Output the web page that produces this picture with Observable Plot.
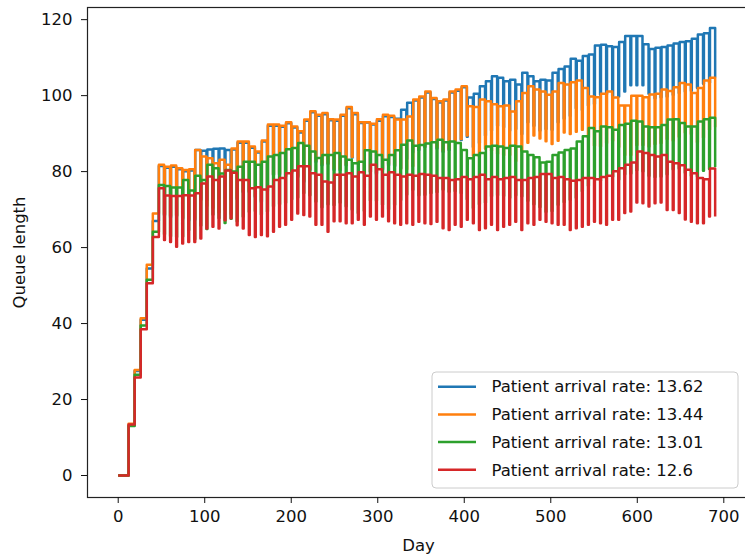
<!DOCTYPE html>
<html>
<head>
<meta charset="utf-8">
<script src="https://cdn.jsdelivr.net/npm/d3@7"></script>
<script src="https://cdn.jsdelivr.net/npm/@observablehq/plot@0.6"></script>
<style>
  body { margin: 0; background: #fff; }
</style>
</head>
<body>
<div id="vis"></div>
<script>
// series names and matplotlib tab10 colours
const seriesNames = [
  'Patient arrival rate: 13.62',
  'Patient arrival rate: 13.44',
  'Patient arrival rate: 13.01',
  'Patient arrival rate: 12.6'
]
const seriesColors = ['#1f77b4', '#ff7f0e', '#2ca02c', '#d62728']

const xTicks = [0, 100, 200, 300, 400, 500, 600, 700]
const yTicks = [0, 20, 40, 60, 80, 100, 120]

// start-up: queue steps up once a week
const rampDays = [0, 12, 19, 26, 33, 40]
const rampBlue = [0, 13.2, 27.5, 41.0, 54.5, 67.0]
const rampOrange = [0, 13.6, 27.8, 41.4, 55.5, 69.0]
const rampGreen = [0, 13.0, 26.5, 39.5, 51.5, 64.2]
const rampRed = [0, 13.4, 25.8, 38.5, 50.6, 62.8]

// after day 47: weekly level, then a one-day drop at the end of the week
const firstWeekDay = 47

const highBlue = [
  81.5, 81.0, 81.3, 80.6, 80.1, 80.3, 85.7, 85.5, 85.8, 86.0,
  86.1, 85.7, 85.8, 87.6, 87.6, 86.3, 85.0, 87.9, 92.1, 92.1,
  91.8, 92.7, 91.6, 90.3, 93.4, 95.6, 94.7, 95.1, 93.5, 93.4,
  94.7, 96.7, 95.1, 92.8, 92.9, 92.4, 93.4, 94.6, 94.4, 93.9,
  96.3, 98.1, 98.7, 99.5, 100.8, 99.1, 98.2, 98.7, 100.8, 101.3,
  102.2, 99.5, 100.5, 102.5, 103.8, 105.1, 104.7, 103.8, 104.2, 102.9,
  106.0, 105.1, 103.8, 104.2, 104.0, 106.0, 107.0, 107.7, 109.7, 109.2,
  110.4, 110.8, 113.2, 113.4, 113.0, 112.8, 114.1, 115.7, 115.7, 115.7,
  113.5, 112.3, 112.6, 112.8, 113.2, 113.7, 114.1, 114.3, 115.0, 116.1,
  116.4, 117.8
]
const lowBlue = [
  68.5, 68.0, 68.3, 67.6, 67.1, 67.3, 72.7, 72.5, 72.8, 73.0,
  73.1, 72.7, 72.8, 74.6, 74.6, 73.3, 72.0, 74.9, 79.1, 79.1,
  78.8, 79.7, 78.6, 77.3, 80.4, 82.6, 81.7, 82.1, 80.5, 80.4,
  81.7, 83.7, 82.1, 79.8, 79.9, 79.4, 80.4, 81.6, 81.4, 80.9,
  83.3, 85.1, 85.7, 86.5, 87.8, 86.1, 85.2, 85.7, 87.8, 88.3,
  89.2, 86.5, 87.5, 89.5, 90.8, 92.1, 91.7, 90.8, 91.2, 89.9,
  93.0, 92.1, 90.8, 91.2, 91.0, 93.0, 94.0, 94.7, 96.7, 96.2,
  97.4, 97.8, 100.2, 100.4, 100.0, 99.8, 101.1, 102.7, 102.7, 102.7,
  100.5, 99.3, 99.6, 99.8, 100.2, 100.7, 101.1, 101.3, 102.0, 103.1,
  103.4, 104.8
]

const highOrange = [
  81.8, 81.3, 81.6, 80.9, 80.4, 80.6, 85.7, 84.0, 83.5, 82.2,
  83.1, 81.8, 86.1, 87.9, 87.9, 86.6, 85.3, 88.2, 92.4, 92.4,
  92.1, 93.0, 91.9, 90.6, 93.7, 95.9, 95.0, 95.4, 93.8, 93.7,
  95.0, 97.0, 95.4, 93.0, 93.0, 92.6, 93.8, 95.0, 94.7, 93.7,
  93.7, 94.5, 99.0, 99.8, 101.1, 99.4, 98.5, 99.0, 101.1, 101.6,
  102.5, 97.2, 97.0, 99.0, 98.5, 97.7, 97.2, 97.4, 95.8, 98.5,
  100.7, 102.5, 101.6, 101.1, 100.2, 101.1, 103.3, 102.9, 103.5, 104.0,
  102.0, 99.8, 99.6, 100.5, 101.1, 99.5, 97.4, 97.4, 100.0, 100.0,
  99.6, 100.3, 100.5, 101.6, 101.2, 102.2, 103.3, 102.9, 100.7, 102.0,
  104.0, 104.7
]
const lowOrange = [
  68.8, 68.4, 68.5, 67.9, 67.5, 67.7, 72.6, 71.0, 70.5, 69.3,
  70.0, 68.9, 73.1, 74.8, 74.9, 73.6, 72.4, 75.2, 79.3, 79.5,
  79.1, 80.0, 78.9, 77.7, 80.6, 82.9, 82.0, 82.3, 80.8, 80.7,
  81.9, 83.9, 82.4, 80.1, 80.0, 79.7, 80.8, 82.0, 81.7, 80.7,
  80.6, 81.5, 86.0, 86.7, 88.0, 86.5, 85.5, 86.0, 88.1, 88.6,
  89.5, 84.2, 84.0, 86.0, 85.5, 84.7, 84.3, 84.4, 82.8, 85.5,
  87.6, 89.5, 88.7, 88.0, 87.3, 88.1, 90.3, 89.9, 90.5, 91.0,
  89.0, 86.8, 86.6, 87.5, 88.1, 86.5, 84.4, 84.4, 87.0, 87.0,
  86.6, 87.3, 87.5, 88.6, 88.2, 89.2, 90.3, 89.9, 87.7, 89.0,
  91.0, 91.7
]

const highGreen = [
  76.5, 76.2, 75.8, 75.8, 77.8, 75.0, 78.9, 77.8, 81.8, 80.9,
  79.5, 80.4, 80.0, 81.3, 82.6, 82.6, 81.8, 82.6, 84.0, 84.4,
  84.9, 85.9, 86.2, 87.5, 86.8, 85.3, 83.6, 84.4, 84.4, 84.9,
  84.0, 83.1, 82.2, 82.6, 85.6, 85.3, 84.4, 83.1, 84.4, 85.6,
  87.1, 88.2, 86.8, 87.0, 87.4, 87.7, 88.4, 87.7, 87.9, 87.5,
  85.7, 83.5, 84.4, 84.9, 86.6, 86.8, 86.6, 86.2, 86.8, 86.6,
  85.3, 84.4, 83.8, 82.4, 82.6, 84.4, 85.0, 85.7, 86.1, 87.9,
  89.3, 91.5, 90.6, 91.9, 91.7, 91.0, 92.3, 92.6, 93.4, 93.2,
  91.9, 91.7, 91.7, 92.3, 93.7, 93.8, 92.8, 91.9, 91.9, 93.2,
  93.8, 94.2
]
const lowGreen = [
  63.5, 63.0, 62.8, 62.9, 64.6, 62.2, 65.8, 64.9, 68.7, 67.8,
  66.5, 67.6, 66.9, 68.2, 69.4, 69.6, 68.7, 69.5, 70.9, 71.4,
  71.8, 72.7, 73.2, 74.4, 73.8, 72.1, 70.6, 71.4, 71.2, 71.9,
  70.9, 70.0, 69.1, 69.7, 72.4, 72.3, 71.3, 70.1, 71.3, 72.5,
  74.0, 75.2, 73.8, 73.9, 74.4, 74.6, 75.3, 74.7, 74.9, 74.4,
  72.7, 70.4, 71.4, 71.8, 73.5, 73.8, 73.6, 73.1, 73.8, 73.5,
  72.3, 71.4, 70.7, 69.4, 69.6, 71.3, 72.0, 72.6, 73.1, 74.8,
  76.3, 78.4, 77.6, 78.8, 78.7, 77.9, 79.3, 79.5, 80.4, 80.1,
  78.9, 78.6, 78.7, 79.3, 80.6, 80.8, 79.7, 78.9, 78.8, 80.2,
  80.7, 81.2
]

const highRed = [
  75.6, 73.7, 73.6, 73.6, 73.8, 73.7, 74.3, 76.9, 78.7, 77.8,
  78.7, 80.3, 79.7, 77.8, 77.8, 75.6, 75.9, 75.3, 76.1, 77.8,
  78.3, 79.6, 80.3, 81.4, 81.4, 79.6, 79.2, 77.4, 77.1, 79.2,
  79.2, 79.6, 78.7, 79.8, 78.9, 81.8, 80.6, 79.2, 79.8, 79.2,
  78.7, 79.2, 78.9, 79.4, 79.2, 78.9, 78.3, 78.3, 77.8, 78.0,
  78.6, 78.0, 78.6, 79.2, 78.0, 78.6, 78.0, 78.3, 78.6, 77.8,
  77.8, 78.3, 78.6, 79.4, 79.4, 78.3, 78.6, 78.0, 77.6, 77.8,
  78.3, 78.3, 78.0, 78.6, 78.9, 80.1, 80.9, 81.8, 82.4, 85.3,
  84.9, 84.4, 84.0, 84.4, 82.6, 82.2, 81.7, 80.5, 79.6, 78.3,
  78.0, 80.8
]
const lowRed = [
  62.0, 61.5, 60.2, 61.1, 61.5, 61.5, 62.4, 65.0, 65.5, 65.0,
  67.2, 67.7, 65.9, 65.0, 63.3, 62.8, 63.3, 63.0, 64.2, 65.5,
  66.0, 67.3, 69.0, 68.6, 68.2, 66.0, 66.0, 64.2, 66.9, 66.9,
  66.4, 66.4, 67.3, 66.0, 68.2, 67.3, 68.2, 66.9, 66.4, 66.0,
  66.4, 66.0, 66.8, 66.4, 66.2, 66.8, 65.1, 64.6, 66.0, 65.5,
  67.3, 66.4, 64.6, 65.1, 66.0, 64.6, 65.5, 66.0, 66.8, 64.6,
  66.4, 66.0, 67.3, 66.8, 66.4, 66.0, 66.0, 64.6, 65.1, 65.5,
  66.0, 66.8, 66.4, 66.0, 67.3, 67.3, 69.1, 69.5, 71.9, 71.7,
  70.8, 71.7, 71.9, 69.9, 69.9, 69.1, 67.4, 66.8, 66.4, 66.4,
  68.2, 68.2
]

const ramps = [rampBlue, rampOrange, rampGreen, rampRed]
const highs = [highBlue, highOrange, highGreen, highRed]
const lows = [lowBlue, lowOrange, lowGreen, lowRed]

// one table per series, in drawing order (blue first, red on top)
const tables = seriesNames.map((name, i) => {
  const rows = rampDays.map((d, k) => ({day: d, queue: ramps[i][k], series: name}))
  highs[i].forEach((h, j) => {
    const start = firstWeekDay + 7 * j
    rows.push({day: start, queue: h, series: name})
    rows.push({day: start + 6, queue: lows[i][j], series: name})
  })
  return rows
})

const font = "'DejaVu Sans', sans-serif"

const chart = Plot.plot({
  width: 745,
  height: 558,
  marginLeft: 87,
  marginRight: -4,
  marginTop: 7,
  marginBottom: 61,
  x: {domain: [-35.5, 729.7]},
  y: {domain: [-5.79, 123.2]},
  color: {domain: seriesNames, range: seriesColors},
  marks: [
    ...tables.map(rows => Plot.lineY(rows, {
      x: 'day',
      y: 'queue',
      stroke: 'series',
      curve: 'step-after',
      strokeWidth: 2.5,
      strokeLinejoin: 'round',
      strokeLinecap: 'butt'
    })),
    Plot.frame({stroke: '#222', strokeWidth: 1.2}),
    Plot.axisX({
      ticks: xTicks,
      tickSize: 6,
      tickPadding: 7,
      label: 'Day',
      labelAnchor: 'center',
      labelArrow: false,
      labelOffset: 53
    }),
    Plot.axisY({
      ticks: yTicks,
      tickSize: 6,
      tickPadding: 9,
      label: 'Queue length',
      labelAnchor: 'center',
      labelArrow: false,
      labelOffset: 74
    })
  ],
  style: {
    fontSize: '16.5px',
    fontFamily: font,
    color: '#111',
    background: '#fff',
    overflow: 'visible'
  }
})

// matplotlib style legend box in the lower right
const svg = d3.select(chart)
const legend = svg.append('g')
  .attr('font-family', font)
  .attr('font-size', '16.5px')
  .attr('text-anchor', 'start')
legend.append('rect')
  .attr('x', 432).attr('y', 372)
  .attr('width', 306).attr('height', 116)
  .attr('rx', 4)
  .attr('fill', '#fff').attr('fill-opacity', 0.8)
  .attr('stroke', '#cccccc')
seriesNames.forEach((name, i) => {
  const y = 386.7 + 27.7 * i
  legend.append('line')
    .attr('x1', 438).attr('x2', 476)
    .attr('y1', y).attr('y2', y)
    .attr('stroke', seriesColors[i]).attr('stroke-width', 2.5)
  legend.append('text')
    .attr('x', 491.5).attr('y', y).attr('dy', '0.35em')
    .attr('fill', '#111')
    .text(name)
})

d3.select('#vis').append(() => chart)
</script>
</body>
</html>
